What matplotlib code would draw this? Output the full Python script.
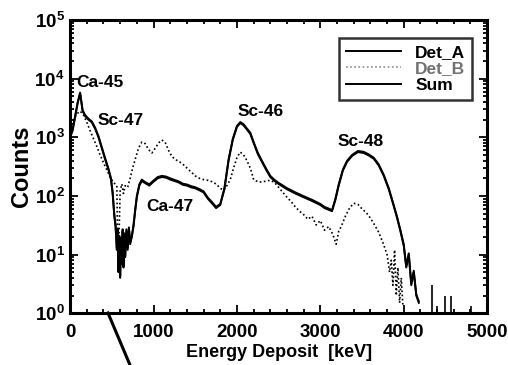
import numpy as np
import matplotlib
matplotlib.use('Agg')
import matplotlib.pyplot as plt
from matplotlib.lines import Line2D
from matplotlib.ticker import MultipleLocator, LogLocator, NullFormatter

plt.rcParams['font.family'] = ['Liberation Sans', 'DejaVu Sans']
plt.rcParams['font.weight'] = 'bold'
plt.rcParams['mathtext.fontset'] = 'custom'
plt.rcParams['mathtext.rm'] = 'Liberation Sans:bold'
plt.rcParams['mathtext.bf'] = 'Liberation Sans:bold'
plt.rcParams['mathtext.it'] = 'Liberation Sans:bold'

# Det_A / Sum spectrum (solid), energy in keV
energy_a = [0, 30, 60, 90, 120, 150, 180, 220, 260, 300, 340, 380, 420, 460, 490,
            510, 530, 545, 560, 570, 580, 590, 600, 610, 620, 630, 640, 650, 660,
            675, 690, 705, 720, 740, 760, 780, 800, 830, 860, 900, 950, 1000, 1050,
            1100, 1150, 1200, 1250, 1300, 1350, 1400, 1450, 1500, 1550, 1600, 1650,
            1700, 1750, 1800, 1850, 1900, 1950, 2000, 2040, 2080, 2120, 2160, 2200,
            2250, 2300, 2350, 2400, 2450, 2500, 2600, 2700, 2800, 2900, 3000, 3050,
            3100, 3140, 3180, 3220, 3270, 3320, 3380, 3450, 3520, 3580, 3640, 3700,
            3760, 3820, 3870, 3920, 3960, 4000, 4030, 4060, 4090, 4120, 4150, 4180]
det_a = [1000, 1300, 2200, 3800, 5600, 2800, 2300, 2000, 1800, 1400, 1000, 650, 420,
         280, 190, 110, 45, 30, 12, 25, 5, 20, 4, 18, 7, 25, 6, 22, 9, 25, 12, 28, 15,
         20, 30, 55, 95, 150, 180, 165, 150, 175, 200, 210, 205, 190, 180, 170, 155,
         150, 140, 135, 125, 115, 90, 75, 62, 70, 130, 400, 900, 1500, 1750, 1600,
         1350, 1150, 800, 520, 380, 280, 210, 180, 160, 130, 110, 95, 82, 70, 62, 58,
         55, 85, 150, 270, 380, 480, 560, 540, 490, 430, 330, 220, 130, 75, 42, 25,
         14, 6, 10, 3, 5, 2, 1.5]
sum_counts = [1050, 1350, 2300, 3900, 5800, 2900, 2400, 2080, 1870, 1460, 1050, 680,
              440, 290, 200, 115, 48, 32, 13, 27, 5.5, 21, 4.3, 19, 7.5, 27, 6.5, 23,
              9.5, 27, 13, 29, 16, 21, 32, 58, 100, 158, 190, 172, 158, 183, 210, 220,
              214, 200, 188, 178, 162, 157, 147, 141, 131, 120, 94, 79, 65, 73, 136,
              420, 940, 1560, 1820, 1670, 1410, 1200, 835, 545, 397, 292, 220, 188, 167,
              136, 115, 99, 86, 73, 65, 61, 57, 89, 157, 282, 397, 500, 585, 565, 512,
              450, 345, 230, 136, 78, 44, 26, 15, 6.3, 10.5, 3.2, 5.3, 2.1, 1.6]

# Det_B spectrum (dotted)
energy_b = [0, 40, 80, 120, 160, 200, 240, 280, 320, 360, 400, 440, 480, 520, 560, 575,
            600, 620, 640, 660, 690, 720, 750, 780, 820, 860, 900, 940, 980, 1020,
            1060, 1100, 1140, 1180, 1220, 1260, 1300, 1340, 1380, 1420, 1460, 1500,
            1550, 1600, 1650, 1700, 1750, 1800, 1840, 1880, 1920, 1960, 2000, 2040,
            2080, 2120, 2160, 2200, 2250, 2300, 2350, 2400, 2450, 2500, 2550, 2600,
            2650, 2700, 2750, 2800, 2850, 2900, 2950, 3000, 3050, 3100, 3150, 3190,
            3220, 3250, 3300, 3350, 3400, 3450, 3500, 3550, 3600, 3650, 3700, 3750,
            3800, 3830, 3850, 3870, 3890, 3910, 3930, 3950, 3970, 3990]
det_b = [1200, 2000, 2500, 2800, 2400, 1800, 1300, 950, 700, 500, 370, 280, 210, 170,
         150, 5, 120, 160, 110, 150, 140, 200, 300, 420, 650, 830, 780, 620, 540, 650,
         800, 900, 820, 600, 470, 420, 390, 360, 320, 280, 250, 220, 200, 190, 185,
         175, 160, 135, 125, 150, 190, 300, 450, 560, 500, 400, 300, 190, 175, 172,
         180, 185, 170, 140, 115, 95, 80, 65, 55, 48, 40, 45, 32, 38, 26, 30, 22, 15,
         25, 30, 45, 62, 75, 72, 60, 52, 42, 32, 24, 16, 10, 5, 8, 3, 12, 2, 6, 1.5,
         4, 1.3]

# isolated single-count spikes in the high-energy tail
spike_energy = [4340, 4400, 4500, 4570, 4810]
spike_counts = [3.0, 1.3, 2.0, 2.0, 1.3]

peak_names = ['Ca-45', 'Sc-47', 'Ca-47', 'Sc-46', 'Sc-48']
peak_x = [360, 600, 1190, 2280, 3480]
peak_y = [8700, 1900, 65, 2800, 860]

fig = plt.figure(figsize=(5.08, 3.65), dpi=100)
ax = fig.add_axes([0.138, 0.142, 0.821, 0.803])

ax.plot(energy_a, det_a, color='k', lw=1.4, label='Det_A')
ax.plot(energy_b, det_b, color='k', lw=1.2, ls=(0, (1, 1.5)), label='Det_B')
ax.plot(energy_a, sum_counts, color='k', lw=1.4, label='Sum')
ax.vlines(spike_energy, 1, spike_counts, color='k', lw=1.2)

for name, x, y in zip(peak_names, peak_x, peak_y):
    ax.text(x, y, name, ha='center', va='center', fontsize=12.5, fontweight='bold')

ax.set_yscale('log')
ax.set_xlim(0, 5000)
ax.set_ylim(1, 1e5)
ax.xaxis.set_major_locator(MultipleLocator(1000))
ax.xaxis.set_minor_locator(MultipleLocator(200))
ax.yaxis.set_minor_locator(LogLocator(base=10, subs=np.arange(2, 10), numticks=10))
ax.yaxis.set_minor_formatter(NullFormatter())
ax.set_yticks([1, 10, 100, 1000, 1e4, 1e5])
ax.set_yticklabels([r'$10^{%d}$' % i for i in range(6)])

ax.tick_params(which='both', direction='in', top=True, right=True, labelsize=13.5, width=1.3)
ax.tick_params(which='major', length=6)
ax.tick_params(which='minor', length=3)
ax.tick_params(axis='x', which='major', pad=8)
ax.tick_params(axis='y', which='major', pad=4)
for s in ax.spines.values():
    s.set_linewidth(2.2)

ax.set_xlabel('Energy Deposit  [keV]', fontsize=13, fontweight='bold', labelpad=2)
ax.set_ylabel('Counts', fontsize=17, fontweight='bold', labelpad=1)

leg = ax.legend(loc='upper right', fontsize=12.5, frameon=True, fancybox=False,
                handlelength=3.2, borderpad=0.4, labelspacing=0.1,
                bbox_to_anchor=(0.985, 0.97))
leg.get_frame().set_edgecolor('k')
leg.get_frame().set_linewidth(1.8)
for txt in leg.get_texts():
    txt.set_fontweight('bold')
leg.get_texts()[1].set_color('0.45')
leg.get_lines()[1].set_color('0.55')

# stray pointer stroke under the axis in the original scan
fig.add_artist(Line2D([108 / 508, 130 / 508], [1 - 313 / 365, 0], color='k', lw=2.2))

fig.savefig('out.png', dpi=100)
